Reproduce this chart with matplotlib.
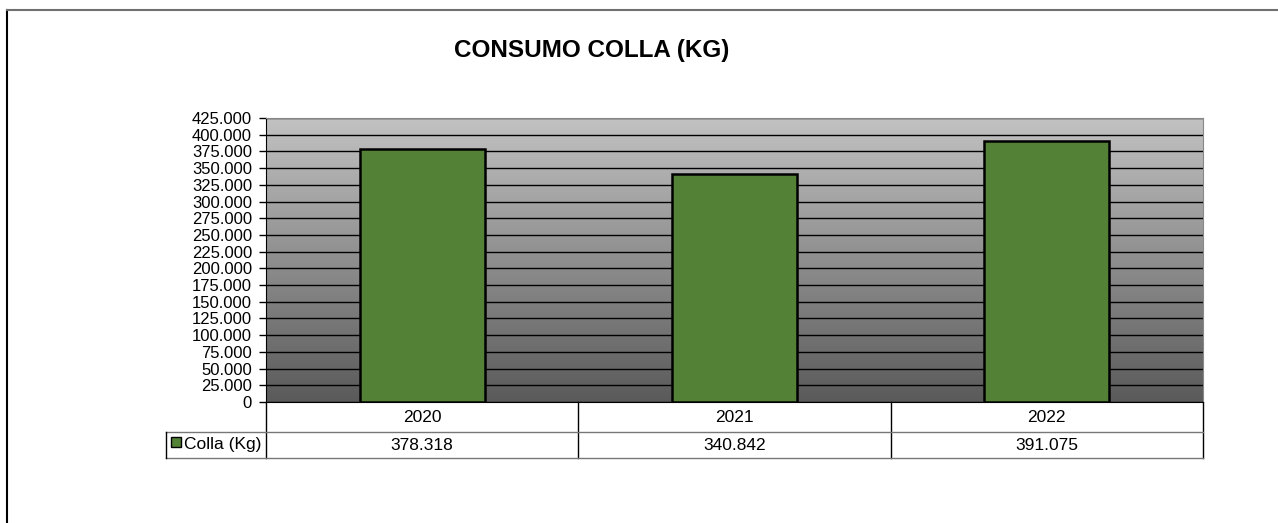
import matplotlib.pyplot as plt
import matplotlib.transforms as mtransforms
from matplotlib.patches import Rectangle
from matplotlib.lines import Line2D
import numpy as np

plt.rcParams['font.family'] = ['Liberation Sans', 'DejaVu Sans']

anni = ['2020', '2021', '2022']
colla_kg = [378318, 340842, 391075]
serie = 'Colla (Kg)'
titolo = 'CONSUMO COLLA (KG)'
y_max = 425000
y_passo = 25000

verde = '#538135'


def fmt_it(v):
    return f'{v:,.0f}'.replace(',', '.')


W, H = 1278, 523
fig = plt.figure(figsize=(W / 100, H / 100), dpi=100)

# riquadro esterno del grafico
fig.add_artist(Line2D([7 / W, 7 / W], [0, 1 - 10 / H], color='black', lw=1.5))
fig.add_artist(Line2D([7 / W, 1], [1 - 10 / H, 1 - 10 / H], color='#707070', lw=1.5))

x0, x1, ytop, ybot = 266, 1203, 118, 402
ax = fig.add_axes([x0 / W, 1 - ybot / H, (x1 - x0) / W, (ybot - ytop) / H])

x = np.arange(len(anni))
ax.set_xlim(-0.5, len(anni) - 0.5)
ax.set_ylim(0, y_max)

# sfondo sfumato grigio
grad = np.linspace(0, 1, 256).reshape(-1, 1)
ax.imshow(grad, extent=[-0.5, len(anni) - 0.5, 0, y_max], aspect='auto',
          cmap=plt.matplotlib.colors.LinearSegmentedColormap.from_list(
              'g', ['#5a5a5a', '#c2c2c2']), origin='lower', zorder=0)

ax.set_yticks(np.arange(0, y_max + 1, y_passo))
ax.set_yticklabels([fmt_it(v) for v in np.arange(0, y_max + 1, y_passo)], fontsize=12)
ax.yaxis.grid(True, color='black', lw=1)
ax.set_axisbelow(True)
ax.tick_params(axis='y', length=5, width=1, pad=5, colors='black')
ax.set_xticks([])

ax.bar(x, colla_kg, width=0.4, color=verde, edgecolor='black', lw=1.8, zorder=3)

for s in ['top', 'right']:
    ax.spines[s].set_color('#888888')
ax.spines['left'].set_color('black')
ax.spines['bottom'].set_color('black')

# tabella dati sotto il grafico
ah = ybot - ytop
tr = mtransforms.blended_transform_factory(ax.transData, ax.transAxes)
r1 = -30 / ah
r2 = -56 / ah
leg_x = ax.transData.inverted().transform(fig.transFigure.transform((166 / W, 0)))[0]


def linea(xs, ys, col='black', lw=1):
    ax.add_line(Line2D(xs, ys, transform=tr, color=col, lw=lw, clip_on=False))


linea([-0.5, -0.5], [0, r2])
linea([2.5, 2.5], [0, r2])
for b in [0.5, 1.5]:
    linea([b, b], [0, r2])
linea([leg_x, 2.5], [r1, r1], col='#777777')
linea([leg_x, 2.5], [r2, r2], col='#777777')
linea([leg_x, leg_x], [r1, r2])

for i, a in enumerate(anni):
    ax.text(i, r1 / 2, a, transform=tr, ha='center', va='center', fontsize=12.5)
    ax.text(i, (r1 + r2) / 2, fmt_it(colla_kg[i]), transform=tr,
            ha='center', va='center', fontsize=12.5)

fig.add_artist(Rectangle((171 / W, 1 - 447 / H), 10 / W, 10 / H, facecolor=verde,
                         edgecolor='black', lw=1))
fig.text(184 / W, 1 - 444 / H, serie, ha='left', va='center', fontsize=12.5)

fig.text(592 / W, 1 - 50 / H, titolo, ha='center', va='center',
         fontsize=17.5, fontweight='bold')

fig.savefig('out.png', dpi=100)
